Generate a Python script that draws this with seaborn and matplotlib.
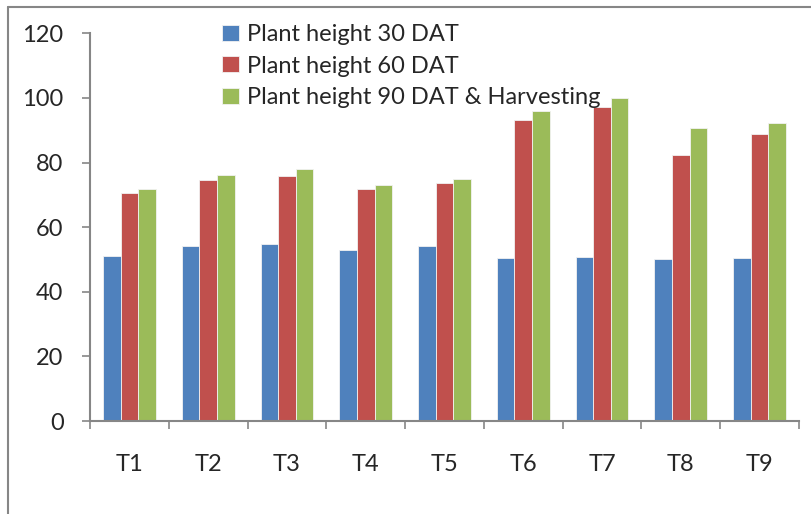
import matplotlib
matplotlib.use("Agg")
import matplotlib.pyplot as plt
from matplotlib.lines import Line2D
import numpy as np
import pandas as pd
import seaborn as sns

treatments = ["T1", "T2", "T3", "T4", "T5", "T6", "T7", "T8", "T9"]
height_30 = [51.2, 54.1, 54.9, 52.8, 54.3, 50.6, 50.8, 50.1, 50.4]
height_60 = [70.5, 74.5, 75.7, 71.7, 73.6, 93.2, 97.1, 82.3, 88.7]
height_90 = [71.9, 76.2, 77.9, 72.9, 74.8, 95.8, 100.0, 90.8, 92.2]
stages = ["Plant height 30 DAT", "Plant height 60 DAT",
          "Plant height 90 DAT & Harvesting"]
colors = ["#4F81BD", "#C0504D", "#9BBB59"]
y_ticks = [0, 20, 40, 60, 80, 100, 120]

df = pd.DataFrame({
    "Treatment": treatments * 3,
    "Height": height_30 + height_60 + height_90,
    "Stage": [s for s in stages for _ in treatments],
})

sns.set_style("white")
plt.rcParams["font.family"] = ["Lato", "DejaVu Sans"]
axis_grey = "#868686"
fs = 17

fig = plt.figure(figsize=(8.12, 5.14), dpi=100)
ax = fig.add_axes([90 / 812, 1 - 421 / 514, 709 / 812, (421 - 33.3) / 514])

sns.barplot(data=df, x="Treatment", y="Height", hue="Stage",
            order=treatments, hue_order=stages, palette=colors,
            saturation=1, width=0.67, errorbar=None,
            edgecolor="#F2F2F2", linewidth=0.6, ax=ax)

ax.set_ylim(0, 120)
ax.set_xlim(-0.5, len(treatments) - 0.5)
ax.set_yticks(y_ticks)
ax.set_xlabel("")
ax.set_ylabel("")

for side in ("top", "right"):
    ax.spines[side].set_visible(False)
for side in ("left", "bottom"):
    ax.spines[side].set_color(axis_grey)
    ax.spines[side].set_linewidth(1.5)

ax.tick_params(axis="y", direction="out", length=6, width=1.2,
               color=axis_grey, labelsize=fs, pad=13, left=True)
ax.tick_params(axis="x", which="major", length=0, labelsize=fs, pad=24)
ax.set_xticks(np.arange(-0.5, len(treatments)), minor=True)
ax.tick_params(axis="x", which="minor", direction="out", length=6,
               width=1.2, color=axis_grey, bottom=True)

leg = ax.legend(loc="upper left", bbox_to_anchor=(222 / 812, 1 - 24 / 514),
                bbox_transform=fig.transFigure, frameon=False,
                fontsize=fs, handlelength=0.7, handleheight=0.65,
                handletextpad=0.35, labelspacing=0.45, borderpad=0,
                borderaxespad=0)

# chart-area frame lines along the top and left edges
fig.add_artist(Line2D([8 / 812, 8 / 812], [0, 1 - 7 / 514],
                      transform=fig.transFigure, color=axis_grey, lw=1.5))
fig.add_artist(Line2D([8 / 812, 1], [1 - 7 / 514, 1 - 7 / 514],
                      transform=fig.transFigure, color=axis_grey, lw=1.5))

fig.savefig("out.png", dpi=100)
